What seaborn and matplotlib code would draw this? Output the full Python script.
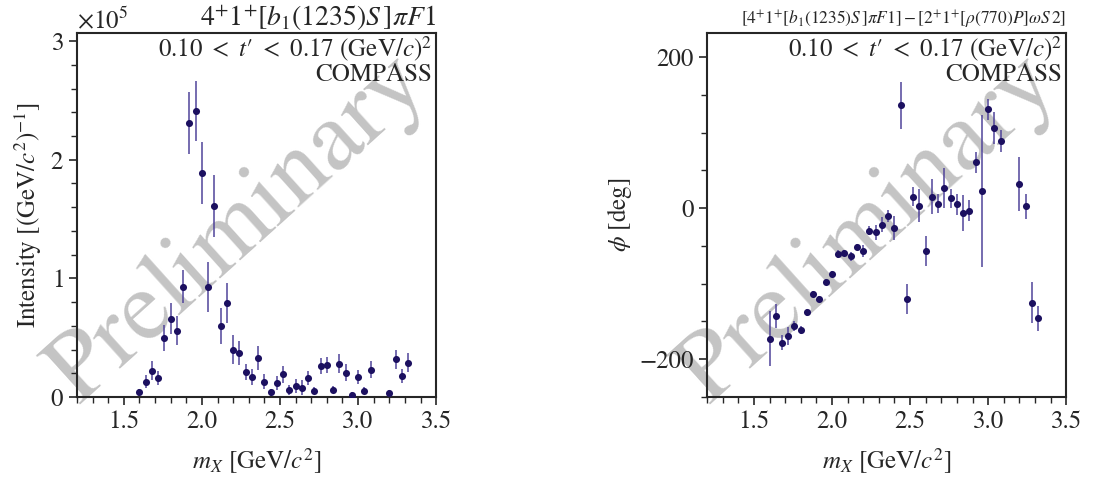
import numpy as np
import pandas as pd
import matplotlib
matplotlib.use("Agg")
import matplotlib.pyplot as plt
import seaborn as sns
from matplotlib.ticker import MultipleLocator, ScalarFormatter

# mass bins [GeV/c^2]
mass = [1.60, 1.64, 1.68, 1.72, 1.76, 1.80, 1.84, 1.88, 1.92, 1.96,
        2.00, 2.04, 2.08, 2.12, 2.16, 2.20, 2.24, 2.28, 2.32, 2.36,
        2.40, 2.44, 2.48, 2.52, 2.56, 2.60, 2.64, 2.68, 2.72, 2.76,
        2.80, 2.84, 2.88, 2.92, 2.96, 3.00, 3.04, 3.08, 3.20, 3.24,
        3.28, 3.32]

# intensity in units of 1e5
intensity = [0.04, 0.13, 0.22, 0.16, 0.50, 0.66, 0.56, 0.93, 2.31, 2.41,
             1.89, 0.93, 1.61, 0.60, 0.79, 0.40, 0.37, 0.21, 0.17, 0.33,
             0.13, 0.04, 0.12, 0.19, 0.06, 0.095, 0.08, 0.16, 0.055, 0.26,
             0.27, 0.06, 0.28, 0.205, 0.02, 0.17, 0.055, 0.23, 0.03, 0.32,
             0.18, 0.29]
intensity_err = [0.03, 0.055, 0.08, 0.06, 0.11, 0.13, 0.12, 0.14, 0.26, 0.25,
                 0.26, 0.21, 0.26, 0.15, 0.17, 0.12, 0.10, 0.07, 0.07, 0.10,
                 0.06, 0.03, 0.06, 0.07, 0.04, 0.06, 0.06, 0.06, 0.03, 0.07,
                 0.07, 0.03, 0.08, 0.07, 0.02, 0.06, 0.03, 0.07, 0.03, 0.08,
                 0.06, 0.08]

# relative phase [deg]
phase = [-172.6, -143, -178, -169, -156, -161, -138, -113.5, -120.5, -97.6,
         -87, -61, -59, -64, -51, -57, -30, -32, -22, -11,
         -26, 136, -120.5, 15, 3, -57, 15, 6, 27, 13,
         5, -6, -3.5, 60.5, 22.5, 131, 106, 88.7, 31.8, 2.2,
         -125, -146]
phase_err = [36, 16, 10, 12, 7, 5, 5, 4, 4, 4,
             4, 5, 4, 6, 4, 8, 6, 10, 10, 8,
             16, 31, 20, 12.6, 22, 20, 23, 13, 26.5, 12.6,
             14, 24, 14, 13.5, 101, 13.7, 21.6, 15, 36, 17,
             27.6, 16]

df = pd.DataFrame({"mass": mass,
                   "intensity": np.array(intensity) * 1e5,
                   "intensity_err": np.array(intensity_err) * 1e5,
                   "phase": phase, "phase_err": phase_err})

sns.set_theme(style="ticks")
plt.rcParams["font.family"] = ["STIXGeneral", "DejaVu Serif"]
plt.rcParams["mathtext.fontset"] = "stix"
plt.rcParams["axes.linewidth"] = 1.5

dot = "#1c1060"
bar = "#50449a"
fs = 18

fig = plt.figure(figsize=(10.95, 4.83), dpi=100)
ax1 = fig.add_axes([0.0703, 0.178, 0.328, 0.754])
ax2 = fig.add_axes([0.6457, 0.178, 0.328, 0.754])

kin = "0.10 $<$ $t$\u2032 $<$ 0.17 (GeV/$c$)$^2$" + "\nCOMPASS"

for ax, ycol, ecol in [(ax1, "intensity", "intensity_err"), (ax2, "phase", "phase_err")]:
    # watermark, allowed to run past the frame like in the original
    ax.text(0.45, 0.46, "Preliminary", transform=ax.transAxes, rotation=42,
            rotation_mode="anchor", fontsize=72, color="#c4c4c4",
            ha="center", va="center", zorder=0, clip_on=False)
    ax.errorbar(df["mass"], df[ycol], yerr=df[ecol], fmt="none",
                ecolor=bar, elinewidth=1.1, capsize=0, zorder=2)
    sns.scatterplot(data=df, x="mass", y=ycol, ax=ax, color=dot, s=26,
                    edgecolor=dot, linewidth=0, zorder=3)
    ax.set_xlim(1.2, 3.5)
    ax.xaxis.set_major_locator(MultipleLocator(0.5))
    ax.xaxis.set_minor_locator(MultipleLocator(0.1))
    ax.tick_params(which="major", direction="out", length=6, width=1.2, labelsize=fs)
    ax.tick_params(which="minor", direction="out", length=4, width=1.0)
    ax.set_xlabel(r"$m_X$ [GeV/$c^2$]", fontsize=fs, labelpad=9)
    ax.text(0.99, 0.995, kin, transform=ax.transAxes, ha="right", va="top",
            fontsize=fs, linespacing=0.95)

ax1.set_ylim(0, 3.07e5)
ax1.yaxis.set_major_locator(MultipleLocator(1e5))
ax1.yaxis.set_minor_locator(MultipleLocator(0.2e5))
fmt = ScalarFormatter(useMathText=True)
fmt.set_powerlimits((0, 0))
ax1.yaxis.set_major_formatter(fmt)
ax1.yaxis.get_offset_text().set_fontsize(fs)
ax1.set_ylabel(r"Intensity [(GeV/$c^2$)$^{-1}$]", fontsize=fs)
ax1.set_title(r"$4^{+}1^{+}[b_1(1235)S\,]\pi F1$", loc="right", fontsize=20, pad=3)

ax2.set_ylim(-250, 232)
ax2.yaxis.set_major_locator(MultipleLocator(200))
ax2.yaxis.set_minor_locator(MultipleLocator(50))
ax2.set_ylabel(r"$\phi$ [deg]", fontsize=fs)
ax2.set_title(r"$[4^{+}1^{+}[b_1(1235)S\,]\pi F1] - [2^{+}1^{+}[\rho(770)P]\omega S\,2]$",
              loc="right", fontsize=12.5, pad=6)

fig.savefig("out.png", dpi=100)
